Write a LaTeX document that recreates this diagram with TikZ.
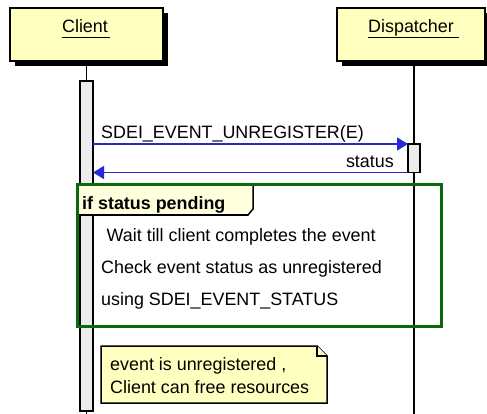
\documentclass[tikz,border=0pt]{standalone}
\usepackage{fontspec}
\setmainfont{Liberation Sans}
\usetikzlibrary{arrows.meta}
\definecolor{partfill}{RGB}{255,255,192}
\definecolor{tabfill}{RGB}{255,255,221}
\definecolor{barfill}{RGB}{236,236,236}
\definecolor{msgblue}{RGB}{40,40,210}
\definecolor{framegreen}{RGB}{10,105,10}
\tikzset{
  txt/.style={inner sep=0pt, font=\fontsize{17.9}{20}\selectfont},
  partbox/.style={draw=black, line width=1.6pt, fill=partfill},
  shadowbox/.style={fill=black},
  lifeline/.style={draw=black, line width=1.5pt},
  actbar/.style={draw=black, line width=1.4pt, fill=barfill},
  msg/.style={draw=msgblue, line width=1.4pt, -{Triangle[length=11pt,width=13pt]}},
  groupframe/.style={draw=framegreen, line width=3pt},
  tabshape/.style={draw=black, line width=1.5pt, fill=tabfill},
  notebox/.style={draw=black, line width=1.5pt, fill=partfill},
}
\begin{document}
\begin{tikzpicture}[x=1pt,y=-1pt]
\useasboundingbox (0,0) rectangle (487,414);

% participant headers with drop shadows
\fill[shadowbox] (15,13) rectangle (168,66);
\draw[partbox] (10,8) rectangle (163,61);
\fill[shadowbox] (342,13) rectangle (490,66);
\draw[partbox] (337,8) rectangle (485,61);
\node[txt, anchor=base] (client) at (85,33) {Client};
\draw[line width=1.2pt] (62,37.5) -- (110,37.5);
\node[txt, anchor=base west] (disp) at (368,33) {Dispatcher};
\draw[line width=1.2pt] (368,37.5) -- (459,37.5);

% lifelines
\coordinate (cl top) at (86.5,61);
\coordinate (cl bot) at (86.5,414);
\coordinate (dl top) at (414,61);
\coordinate (dl bot) at (414,414);
\draw[lifeline] (cl top) -- (cl bot);
\draw[lifeline] (dl top) -- (dl bot);

% activation bars
\draw[actbar] (80,81) rectangle (93,411);
\draw[actbar] (408,144) rectangle (420,172.5);
\coordinate (c1) at (93,144);
\coordinate (d1) at (408,144);
\coordinate (d2) at (408,172.5);
\coordinate (c2) at (93,172.5);

% messages
\draw[msg] (c1) -- (d1);
\node[txt, anchor=base west] (m1) at (101,139) {SDEI\_EVENT\_UNREGISTER(E)};
\draw[msg] (d2) -- (c2);
\node[txt, anchor=base east] (m2) at (394,167.5) {status};

% conditional group
\draw[tabshape] (77,185) -- (253,185) -- (253,209) -- (248,215) -- (77,215) -- cycle;
\node[txt, anchor=base west, font=\fontsize{17.9}{20}\selectfont\bfseries] (cond) at (82,210) {if status pending};
\draw[groupframe] (77,185) rectangle (441,326);
\node[txt, anchor=base west] (g1) at (106.5,241.7) {Wait till client completes the event};
\node[txt, anchor=base west] (g2) at (101,273) {Check event status as unregistered};
\node[txt, anchor=base west] (g3) at (101,305) {using SDEI\_EVENT\_STATUS};

% note
\draw[notebox] (101,346) -- (317,346) -- (327,356) -- (327,403) -- (101,403) -- cycle;
\draw[line width=1.5pt, fill=partfill] (317,346) -- (317,356) -- (327,356);
\node[txt, anchor=base west] (n1) at (110,370) {event is unregistered ,};
\node[txt, anchor=base west] (n2) at (110,393) {Client can free resources};
\end{tikzpicture}
\end{document}
